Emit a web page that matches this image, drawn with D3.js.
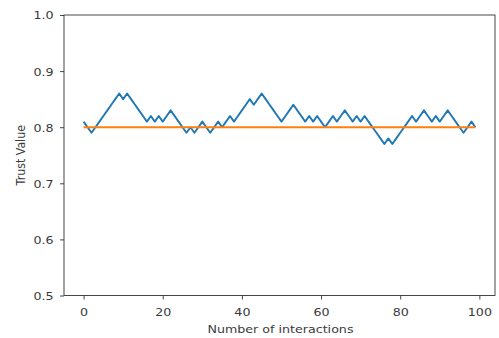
<!DOCTYPE html>
<html><head><meta charset="utf-8">
<script src="https://cdn.jsdelivr.net/npm/d3@7"></script>
<style>body{margin:0;background:#fff}svg{display:block}text{font-family:"DejaVu Sans",sans-serif}</style>
</head><body>
<svg id="c" width="499" height="338"></svg>
<script>
const trustValues = [0.81,0.80,0.79,0.80,0.81,0.82,0.83,0.84,0.85,0.86,
  0.85,0.86,0.85,0.84,0.83,0.82,0.81,0.82,0.81,0.82,
  0.81,0.82,0.83,0.82,0.81,0.80,0.79,0.80,0.79,0.80,
  0.81,0.80,0.79,0.80,0.81,0.80,0.81,0.82,0.81,0.82,
  0.83,0.84,0.85,0.84,0.85,0.86,0.85,0.84,0.83,0.82,
  0.81,0.82,0.83,0.84,0.83,0.82,0.81,0.82,0.81,0.82,
  0.81,0.80,0.81,0.82,0.81,0.82,0.83,0.82,0.81,0.82,
  0.81,0.82,0.81,0.80,0.79,0.78,0.77,0.78,0.77,0.78,
  0.79,0.80,0.81,0.82,0.81,0.82,0.83,0.82,0.81,0.82,
  0.81,0.82,0.83,0.82,0.81,0.80,0.79,0.80,0.81,0.80];
const threshold = 0.8;
const xTicks = [0,20,40,60,80,100];
const yTicks = [0.5,0.6,0.7,0.8,0.9,1.0];
const xLabel = "Number of interactions";
const yLabel = "Trust Value";

const svg = d3.select("#c");
const L=64, R=495, T=15, B=295.5;
const SX = 1.15, FS = "11px", INK = "#3a3a3a";
const n = trustValues.length;
const x = d3.scaleLinear().domain([-(n-1)*0.05, (n-1)*1.05]).range([L,R]);
const y = d3.scaleLinear().domain([0.5,1.0]).range([B,T]);

const idx = d3.range(n);
const line = d3.line().x(d=>x(d[0])).y(d=>y(d[1]));
svg.append("path").datum(idx.map(i=>[i,trustValues[i]])).attr("d",line)
  .attr("fill","none").attr("stroke","#1f77b4").attr("stroke-width",1.9).attr("stroke-linejoin","round");
svg.append("path").datum(idx.map(i=>[i,threshold])).attr("d",line)
  .attr("fill","none").attr("stroke","#ff7f0e").attr("stroke-width",1.9);

const gx = svg.append("g").attr("transform",`translate(0,${B})`)
  .call(d3.axisBottom(x).tickValues(xTicks).tickFormat(d3.format("d")).tickSize(4));
const gy = svg.append("g").attr("transform",`translate(${L},0)`)
  .call(d3.axisLeft(y).tickValues(yTicks).tickFormat(d3.format(".1f")).tickSize(4));
[gx,gy].forEach(g=>{
  g.select(".domain").remove();
  g.selectAll("line").attr("stroke","#333").attr("stroke-width",0.9);
  g.selectAll("text").attr("fill",INK).style("font-size",FS).style("font-family","DejaVu Sans");
});
gx.selectAll("text").attr("y",null).attr("dy",null)
  .attr("transform",`translate(0,20.5) scale(${SX},1)`);
gy.selectAll("text").attr("x",null).attr("dy","0.36em")
  .attr("transform",`translate(-10.5,0) scale(${SX},1)`);
svg.append("rect").attr("x",L).attr("y",T).attr("width",R-L).attr("height",B-T)
  .attr("fill","none").attr("stroke","#333").attr("stroke-width",0.9);

svg.append("text").attr("transform",`translate(${(L+R)/2+1},333) scale(${SX},1)`).attr("text-anchor","middle")
  .attr("fill",INK).style("font-size",FS).text(xLabel);
svg.append("text").attr("transform",`translate(25,${(T+B)/2}) scale(${SX},1) rotate(-90)`).attr("text-anchor","middle")
  .attr("fill",INK).style("font-size",FS).text(yLabel);
</script>
</body></html>
